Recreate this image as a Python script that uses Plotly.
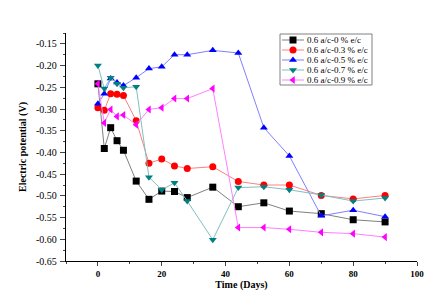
import plotly.graph_objects as go

days = [0, 2, 4, 6, 8, 12, 16, 20, 24, 28, 36, 44, 52, 60, 70, 80, 90]
ec_0 = [-0.242, -0.391, -0.343, -0.373, -0.395, -0.466, -0.508, -0.489, -0.490, -0.504, -0.480, -0.525, -0.516, -0.535, -0.541, -0.555, -0.560]
ec_03 = [-0.297, -0.303, -0.265, -0.266, -0.269, -0.327, -0.425, -0.415, -0.431, -0.437, -0.433, -0.467, -0.475, -0.475, -0.499, -0.507, -0.499]
ec_05 = [-0.288, -0.265, -0.230, -0.239, -0.246, -0.228, -0.207, -0.203, -0.175, -0.175, -0.165, -0.171, -0.343, -0.408, -0.546, -0.533, -0.548]
ec_07 = [-0.200, -0.253, -0.228, -0.242, -0.251, -0.249, -0.457, -0.486, -0.470, -0.512, -0.601, -0.481, -0.479, -0.486, -0.498, -0.512, -0.505]
ec_09 = [-0.242, -0.332, -0.301, -0.317, -0.314, -0.336, -0.301, -0.297, -0.276, -0.276, -0.253, -0.573, -0.573, -0.577, -0.584, -0.587, -0.595]

names = ["0.6 a/c-0 % e/c", "0.6 a/c-0.3 % e/c", "0.6 a/c-0.5 % e/c",
         "0.6 a/c-0.7 % e/c", "0.6 a/c-0.9 % e/c"]
series = [ec_0, ec_03, ec_05, ec_07, ec_09]
marker_colors = ["#000000", "#ff0000", "#0000ff", "#008080", "#ff00ff"]
line_colors = ["#808080", "#ff8080", "#8080ff", "#80c0c0", "#ff80ff"]
symbols = ["square", "circle", "triangle-up", "triangle-down", "triangle-left"]

y_ticks = [-0.15, -0.20, -0.25, -0.30, -0.35, -0.40, -0.45, -0.50, -0.55, -0.60, -0.65]
y_labels = ["-0.15", "-0.20", "-0.25", "-0.30", "-0.35", "-0.40", "-0.45", "-0.50", "-0.55", "-0.60", "-0.65"]
y_minor = [-0.625, -0.575, -0.525, -0.475, -0.425, -0.375, -0.325, -0.275, -0.225, -0.175, -0.125]
x_ticks = [0, 20, 40, 60, 80, 100]
x_minor = [-10, 10, 30, 50, 70, 90]

font = "Liberation Serif, Times New Roman, serif"

# plot area in pixels (for compact custom legend placement)
L, R, T, B = 58, 409, 25, 253

fig = go.Figure()
for name, ys, mc, lc, sym in zip(names, series, marker_colors, line_colors, symbols):
    fig.add_trace(go.Scatter(
        x=days, y=ys, name=name, mode="lines+markers",
        line=dict(color=lc, width=1),
        marker=dict(color=mc, symbol=sym, size=7, line=dict(width=0)),
        showlegend=False,
    ))

annotations = []
# y tick labels with fixed two decimals
for v, t in zip(y_ticks, y_labels):
    annotations.append(dict(xref="paper", yref="y", x=0, y=v, text=t, showarrow=False,
                            xanchor="right", yanchor="middle", xshift=-7,
                            font=dict(family=font, size=10, color="black")))
# y axis title
annotations.append(dict(xref="paper", yref="paper", x=(15 - L) / (R - L), y=0.5,
                        text="<b>Electric potential (V)</b>", showarrow=False,
                        textangle=-90, xanchor="center", yanchor="middle",
                        font=dict(family=font, size=10, color="black")))

# compact legend (drawn on an overlay axis in pixel units)
leg_left, leg_top, leg_right, leg_bottom = 272, 26, 364, 77
row_y = [32, 42, 52, 62, 72]
shapes = [dict(type="rect", xref="x2", yref="y2", x0=leg_left, x1=leg_right,
               y0=leg_top, y1=leg_bottom, line=dict(color="#808080", width=1),
               fillcolor="white", layer="below")]
for i, (name, mc, lc, sym) in enumerate(zip(names, marker_colors, line_colors, symbols)):
    ry = row_y[i]
    shapes.append(dict(type="line", xref="x2", yref="y2", x0=274, x1=296, y0=ry, y1=ry,
                       line=dict(color=lc, width=1), layer="below"))
    annotations.append(dict(xref="x2", yref="y2", x=297, y=ry, text=name, showarrow=False,
                            xanchor="left", yanchor="middle",
                            font=dict(family=font, size=9, color="black")))
    fig.add_trace(go.Scatter(x=[285], y=[ry], xaxis="x2", yaxis="y2", mode="markers",
                             marker=dict(color=mc, symbol=sym, size=7, line=dict(width=0)),
                             showlegend=False, hoverinfo="skip"))

fig.update_layout(
    width=440, height=291,
    margin=dict(l=L, r=440 - R, t=T, b=291 - B),
    paper_bgcolor="white", plot_bgcolor="white",
    font=dict(family=font, size=9, color="black"),
    showlegend=False,
    shapes=shapes, annotations=annotations,
    xaxis=dict(range=[-10, 100], tickmode="array", tickvals=x_ticks,
               showgrid=False, zeroline=False, showline=True,
               linecolor="black", linewidth=1, ticks="outside", ticklen=4,
               tickfont=dict(family=font, size=9, weight="bold"),
               minor=dict(tickmode="array", tickvals=x_minor, ticks="outside", ticklen=2),
               title=dict(text="<b>Time (Days)</b>", font=dict(size=10), standoff=2)),
    yaxis=dict(range=[-0.65, -0.125], tickmode="array", tickvals=y_ticks,
               showticklabels=False,
               showgrid=False, zeroline=False, showline=True,
               linecolor="black", linewidth=1, ticks="outside", ticklen=5,
               minor=dict(tickmode="array", tickvals=y_minor, ticks="outside", ticklen=2)),
    xaxis2=dict(overlaying="x", range=[L, R], visible=False, fixedrange=True),
    yaxis2=dict(overlaying="y", range=[B, T], visible=False, fixedrange=True),
)

fig.write_html("out.html")
